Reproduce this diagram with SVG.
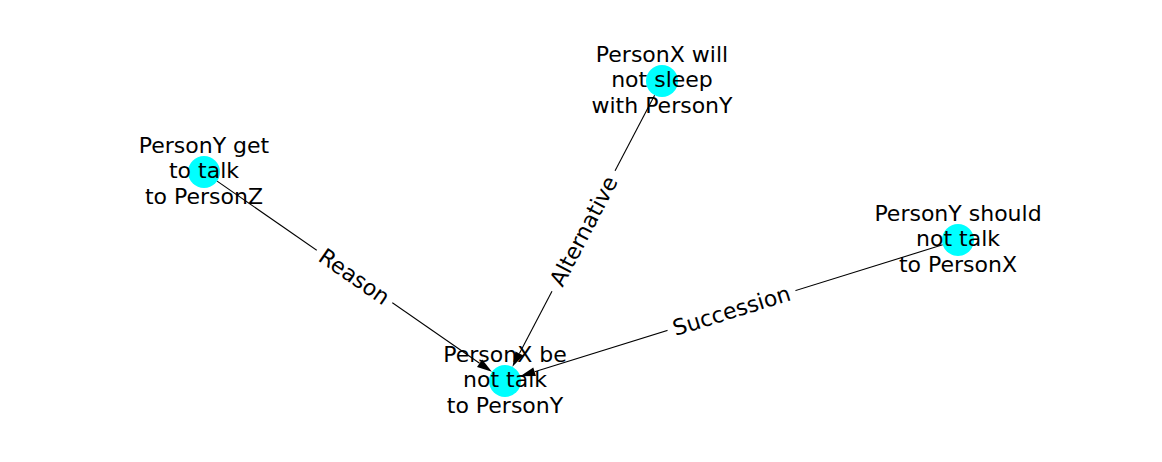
<svg xmlns="http://www.w3.org/2000/svg" width="1162" height="462" viewBox="0 0 1162 462">
<style>
.edge{stroke:#000;stroke-width:1.1;fill:none}
.node{fill:#00ffff}
.lbl{font-family:"DejaVu Sans",sans-serif;font-size:22px;fill:#000;text-anchor:middle}
.box{fill:#fff}
</style>
<defs>
<marker id="ah" viewBox="0 -4.5 15 9" refX="0" refY="0" markerWidth="15" markerHeight="9" markerUnits="userSpaceOnUse" orient="auto" overflow="visible">
<path d="M0,-4.5 L15,0 L0,4.5 z" fill="#000"/>
</marker>
</defs>
<rect width="1162" height="462" fill="#fff"/>
<g id="edges">
<line class="edge" x1="217.1" y1="181.1" x2="479.6" y2="363.3" marker-end="url(#ah)"/>
<line class="edge" x1="654.6" y1="95.2" x2="519.4" y2="353.5" marker-end="url(#ah)"/>
<line class="edge" x1="942.7" y1="244.8" x2="534.6" y2="371.7" marker-end="url(#ah)"/>
</g>
<g id="node-a">
<circle class="node" cx="204" cy="172" r="16"/>
<text class="lbl" x="204" y="152.5">PersonY get</text>
<text class="lbl" x="204" y="178">to talk</text>
<text class="lbl" x="204" y="203.5">to PersonZ</text>
</g>
<g id="node-b">
<circle class="node" cx="662" cy="81" r="16"/>
<text class="lbl" x="662" y="61.5">PersonX will</text>
<text class="lbl" x="662" y="87">not sleep</text>
<text class="lbl" x="662" y="112.5">with PersonY</text>
</g>
<g id="node-c">
<circle class="node" cx="958" cy="240" r="16"/>
<text class="lbl" x="958" y="220.5">PersonY should</text>
<text class="lbl" x="958" y="246">not talk</text>
<text class="lbl" x="958" y="271.5">to PersonX</text>
</g>
<g id="node-d">
<circle class="node" cx="505" cy="381" r="16"/>
<text class="lbl" x="505" y="361.5">PersonX be</text>
<text class="lbl" x="505" y="387">not talk</text>
<text class="lbl" x="505" y="412.5">to PersonY</text>
</g>
<g id="edge-labels">
<g transform="translate(354.5,276.5) rotate(34.8)">
<rect class="box" x="-46" y="-15" width="92" height="30"/>
<text class="lbl" x="0" y="7.8">Reason</text>
</g>
<g transform="translate(583.5,231) rotate(-62.4)">
<rect class="box" x="-68" y="-15" width="136" height="30"/>
<text class="lbl" x="0" y="7.8">Alternative</text>
</g>
<g transform="translate(731.5,310.5) rotate(-17.3)">
<rect class="box" x="-67" y="-15" width="134" height="30"/>
<text class="lbl" x="0" y="7.8">Succession</text>
</g>
</g>
</svg>
